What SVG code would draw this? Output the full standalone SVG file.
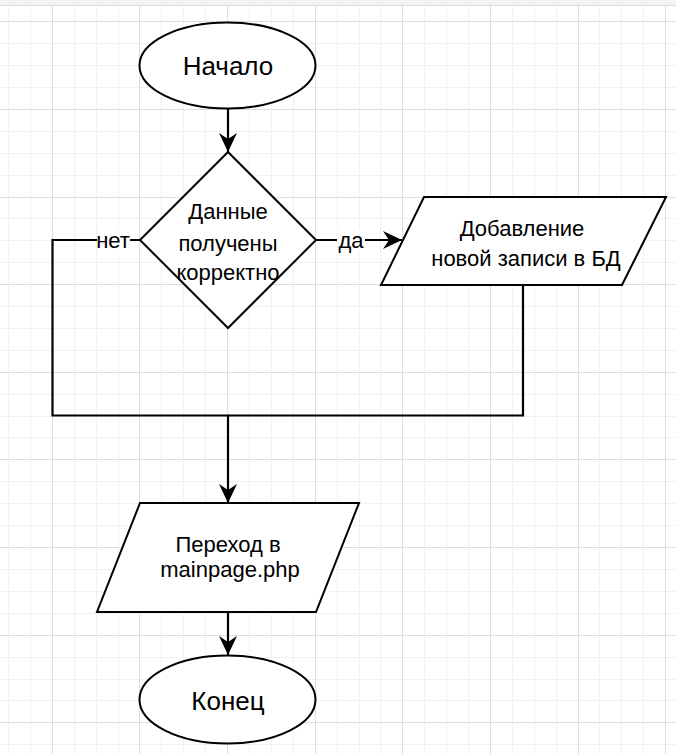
<svg xmlns="http://www.w3.org/2000/svg" width="676" height="754" viewBox="0 0 676 754">
<style>
.minor{stroke:#f1f1f1;stroke-width:1}
.major{stroke:#dedede;stroke-width:1}
.shape{fill:#ffffff;stroke:#000000;stroke-width:2}
.edge{fill:none;stroke:#000000;stroke-width:2.2}
.t{font-family:"Liberation Sans",Arial,sans-serif;font-size:22px;fill:#000000;text-anchor:middle}
.big{font-size:26px}
</style>
<defs>
<marker id="arr" markerUnits="userSpaceOnUse" markerWidth="22" markerHeight="22" viewBox="-20 -11 22 22" refX="0" refY="0" orient="auto">
<path d="M0,0 L-19,-9 L-13,0 L-19,9 Z" fill="#000000"/>
</marker>
</defs>
<rect x="0" y="0" width="676" height="754" fill="#ffffff"/>
<g id="grid">
<g class="minor">
<path d="M8.5,6V754M30.5,6V754M74.5,6V754M96.5,6V754M118.5,6V754M161.5,6V754M183.5,6V754M205.5,6V754M249.5,6V754M271.5,6V754M293.5,6V754M337.5,6V754M359.5,6V754M380.5,6V754M424.5,6V754M446.5,6V754M468.5,6V754M512.5,6V754M534.5,6V754M556.5,6V754M599.5,6V754M621.5,6V754M643.5,6V754"/>
<path d="M0,43.5H676M0,65.5H676M0,87.5H676M0,131.5H676M0,153.5H676M0,175.5H676M0,218.5H676M0,240.5H676M0,262.5H676M0,306.5H676M0,328.5H676M0,350.5H676M0,394.5H676M0,416.5H676M0,437.5H676M0,481.5H676M0,503.5H676M0,525.5H676M0,569.5H676M0,591.5H676M0,613.5H676M0,657.5H676M0,679.5H676M0,700.5H676M0,744.5H676"/>
</g>
<g class="major">
<path d="M52.5,6V754M139.5,6V754M227.5,6V754M315.5,6V754M402.5,6V754M490.5,6V754M578.5,6V754M665.5,6V754"/>
<path d="M0,21.5H676M0,109.5H676M0,197.5H676M0,284.5H676M0,372.5H676M0,459.5H676M0,547.5H676M0,635.5H676M0,722.5H676"/>
</g>
<rect x="0" y="0" width="676" height="5" fill="#f1f3f4"/>
<path d="M0,5.5H676" stroke="#dadce0" stroke-width="1"/>
</g>
<g id="connectors">
<path class="edge" d="M228,109 V152" marker-end="url(#arr)"/>
<path class="edge" d="M316,240 H402" marker-end="url(#arr)"/>
<path class="edge" d="M140,240 H52.5 V415.5 H228 V503" marker-end="url(#arr)"/>
<path class="edge" d="M523,285 V415.5 H228"/>
<path class="edge" d="M228,612 V655" marker-end="url(#arr)"/>
<rect x="97" y="229" width="33" height="24" fill="#ffffff"/>
<text class="t" x="113" y="248">нет</text>
<rect x="337" y="229" width="28" height="24" fill="#ffffff"/>
<text class="t" x="351" y="248">да</text>
</g>
<g id="start">
<ellipse class="shape" cx="227.5" cy="65.5" rx="88" ry="43"/>
<text class="t big" x="228" y="75">Начало</text>
</g>
<g id="decision">
<path class="shape" d="M228,152 L316,240 L228,328 L140,240 Z"/>
<text class="t" x="228" y="219">Данные</text>
<text class="t" x="228" y="251">получены</text>
<text class="t" x="228" y="280">корректно</text>
</g>
<g id="add">
<path class="shape" d="M424,197 H666 L622,285 H381 Z"/>
<text class="t" x="522" y="236">Добавление</text>
<text class="t" x="526" y="266">новой записи в БД</text>
</g>
<g id="goto">
<path class="shape" d="M140,503 H359 L316,612 H97 Z"/>
<text class="t" x="228" y="552">Переход в</text>
<text class="t" x="230" y="577">mainpage.php</text>
</g>
<g id="end">
<ellipse class="shape" cx="227.5" cy="699.5" rx="88" ry="44"/>
<text class="t big" x="228" y="710">Конец</text>
</g>
</svg>
